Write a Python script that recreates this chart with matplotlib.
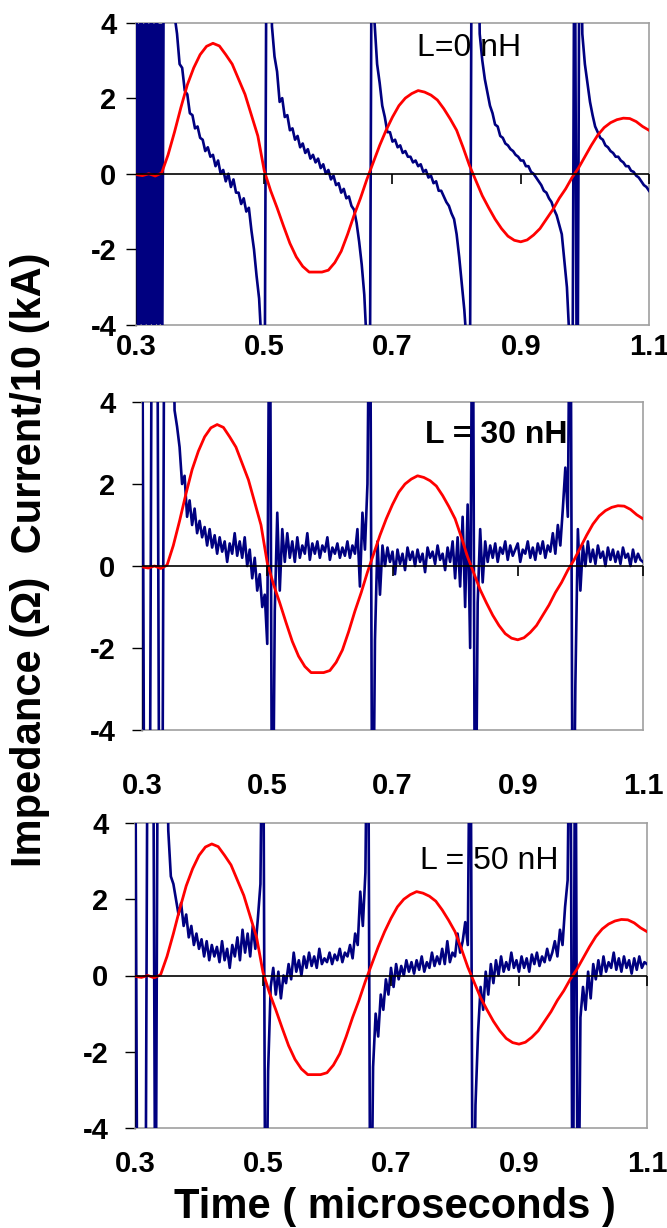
import numpy as np
import matplotlib
matplotlib.use('Agg')
import matplotlib.pyplot as plt

plt.rcParams['font.family'] = ['Liberation Sans', 'DejaVu Sans']

# scope sample grid (microseconds), 0.300 .. 1.100
t_start, t_step, n_samples = 0.300, 0.004, 201
time_us = np.round(t_start + t_step * np.arange(n_samples), 3)

# current / 10 (kA), read every 0.01 us
current_t = np.round(np.arange(81) * 0.01 + 0.30, 2)
current = [-0.02, -0.05, 0.00, -0.06, 0.02, 0.50, 1.10, 1.75, 2.35, 2.80,
           3.15, 3.37, 3.45, 3.38, 3.15, 2.90, 2.50, 2.10, 1.55, 1.00,
           0.08, -0.45, -0.90, -1.38, -1.84, -2.20, -2.45, -2.60, -2.60, -2.60,
           -2.55, -2.35, -2.05, -1.60, -1.10, -0.65, -0.15, 0.30, 0.75, 1.15,
           1.50, 1.80, 2.00, 2.12, 2.20, 2.16, 2.08, 1.95, 1.72, 1.45,
           1.15, 0.70, 0.22, -0.18, -0.58, -0.90, -1.20, -1.45, -1.65, -1.76,
           -1.80, -1.75, -1.62, -1.45, -1.20, -0.95, -0.65, -0.40, -0.10, 0.15,
           0.45, 0.75, 1.02, 1.22, 1.35, 1.43, 1.47, 1.46, 1.38, 1.25,
           1.15]

# impedance (ohm), one row = 0.04 us
z_0nH = [9, -9, 9, -9, 9, -9, 9, -9, 9, -9,
         -9, 9, 9, 9, 9, 4.2, 3.7, 2.9, 2.8, 2.2,
         2.1, 1.6, 1.55, 1.2, 1.25, 0.95, 0.9, 0.6, 0.7, 0.45,
         0.5, 0.2, 0.35, 0.0, 0.1, -0.2, 0.0, -0.35, -0.15, -0.5,
         -0.5, -0.8, -0.65, -1.0, -0.9, -1.5, -2.0, -2.7, -3.3, -4.6,
         -9, 9, 9, 3.9, 3.1, 2.7, 1.9, 2.0, 1.5, 1.55,
         1.15, 1.2, 0.9, 1.0, 0.7, 0.8, 0.55, 0.65, 0.4, 0.5,
         0.3, 0.4, 0.15, 0.25, 0.0, 0.1, -0.15, -0.05, -0.3, -0.25,
         -0.5, -0.4, -0.65, -0.6, -0.85, -0.95, -1.3, -1.8, -2.4, -3.2,
         -4.6, -9, 9, 4.0, 2.9, 2.4, 1.8, 1.5, 1.1, 1.1,
         0.85, 0.9, 0.7, 0.75, 0.55, 0.6, 0.45, 0.45, 0.3, 0.35,
         0.2, 0.25, 0.05, 0.1, -0.1, -0.05, -0.25, -0.2, -0.45, -0.45,
         -0.6, -0.75, -0.85, -1.05, -1.2, -1.6, -2.2, -2.9, -3.6, -4.6,
         -9, 9, 9, 9, 3.7, 3.0, 2.5, 2.15, 1.8, 1.6,
         1.3, 1.25, 1.0, 0.95, 0.8, 0.75, 0.65, 0.6, 0.5, 0.45,
         0.35, 0.35, 0.2, 0.2, 0.05, 0.0, -0.1, -0.2, -0.3, -0.45,
         -0.5, -0.65, -0.75, -0.95, -1.1, -1.35, -1.6, -2.3, -3.0, -4.4,
         -9, 9, -9, 9, 3.7, 2.9, 2.4, 1.9, 1.55, 1.25,
         1.1, 0.95, 0.9, 0.75, 0.7, 0.6, 0.55, 0.45, 0.45, 0.35,
         0.3, 0.2, 0.2, 0.08, 0.05, -0.05, -0.1, -0.2, -0.3, -0.35,
         -0.45]

z_30nH = [9, -9, -9, -9, 9, 9, 9, -9, -9, 9,
          9, 9, 9, 3.8, 3.4, 2.9, 2.0, 2.2, 1.2, 1.6,
          1.0, 1.4, 0.8, 1.1, 0.7, 0.95, 0.5, 0.9, 0.45, 0.75,
          0.3, 0.7, 0.35, 0.6, 0.1, 0.55, 0.3, 0.8, 0.25, 0.6,
          0.2, 0.7, 0.0, 0.4, -0.3, 0.2, -0.6, -0.2, -1.0, -0.7,
          -1.9, 9, -9, -1.1, 1.3, -0.6, 0.9, 0.1, 0.8, 0.2,
          0.6, 0.1, 0.7, 0.2, 0.5, 0.3, 0.8, 0.15, 0.55, 0.3,
          0.6, 0.2, 0.5, 0.35, 0.7, 0.15, 0.45, 0.3, 0.55, 0.2,
          0.45, 0.25, 0.6, 0.2, 0.5, 0.3, 0.9, -0.5, 1.3, 0.4,
          2.0, 9, -9, -1.8, 0.6, -0.7, 0.5, 0.0, 0.45, 0.1,
          0.35, -0.2, 0.4, 0.05, 0.3, -0.1, 0.45, 0.15, 0.35, 0.0,
          0.4, 0.1, 0.3, -0.15, 0.45, 0.2, 0.35, 0.05, 0.5, 0.15,
          0.3, -0.1, 0.45, 0.1, 0.6, -0.3, 0.7, -0.5, 1.2, -1.0,
          1.5, -2.0, 9, -9, -0.9, 0.9, -0.4, 0.6, 0.1, 0.5,
          0.2, 0.55, 0.1, 0.45, 0.3, 0.6, 0.15, 0.5, 0.25, 0.4,
          0.55, 0.1, 0.4, 0.3, 0.6, 0.2, 0.45, 0.15, 0.55, 0.3,
          0.6, 0.2, 0.5, 0.35, 0.8, 0.3, 1.0, 0.5, 1.4, 2.4,
          1.2, 9, -9, -2.9, 0.9, -0.6, 0.5, 0.0, 0.6, 0.1,
          0.4, 0.05, 0.5, 0.2, 0.35, 0.0, 0.45, 0.15, 0.4, 0.1,
          0.35, 0.05, 0.45, 0.2, 0.3, 0.0, 0.4, 0.1, 0.3, 0.15,
          0.1]

z_50nH = [9, -9, -9, -9, -9, 9, 9, 9, -9, 9,
          9, 9, 9, 3.8, 2.6, 2.4, 2.0, 1.6, 1.9, 1.3,
          1.6, 1.0, 1.3, 0.8, 1.1, 0.7, 0.95, 0.5, 0.9, 0.4,
          0.8, 0.5, 0.75, 0.35, 0.9, 0.4, 0.7, 0.2, 0.8, 0.5,
          1.0, 0.4, 1.2, 0.6, 1.1, 0.5, 1.3, 0.7, 1.5, 2.4,
          9, -9, -2.5, -0.3, 0.2, -0.5, 0.1, -0.6, 0.0, -0.2,
          0.3, -0.1, 0.6, 0.1, 0.4, 0.0, 0.5, 0.2, 0.6, 0.25,
          0.5, 0.2, 0.7, 0.3, 0.45, 0.35, 0.6, 0.3, 0.55, 0.4,
          0.7, 0.35, 0.6, 0.5, 0.8, 0.45, 1.1, 0.8, 2.2, 1.3,
          2.7, 9, -9, -2.4, -1.0, -1.6, -0.5, -0.9, -0.1, -0.5,
          0.2, -0.3, 0.3, -0.1, 0.25, 0.0, 0.4, 0.1, 0.35, 0.05,
          0.4, 0.15, 0.5, 0.1, 0.35, 0.2, 0.6, 0.25, 0.5, 0.3,
          0.7, 0.3, 0.9, 0.35, 0.6, 0.5, 1.1, 0.6, 0.9, 1.4,
          0.8, 9, -9, -3.4, -1.5, -0.3, -0.9, 0.1, -0.5, 0.3,
          -0.2, 0.4, 0.0, 0.5, 0.1, 0.35, 0.15, 0.6, 0.2, 0.4,
          0.1, 0.5, 0.2, 0.45, 0.1, 0.55, 0.3, 0.6, 0.25, 0.5,
          0.35, 0.7, 0.4, 0.6, 0.9, 0.5, 1.2, 0.8, 1.8, 2.5,
          9, -9, 9, -9, -1.1, -0.3, -0.9, 0.1, -0.6, 0.3,
          -0.1, 0.4, 0.0, 0.5, 0.1, 0.35, 0.2, 0.6, 0.15, 0.45,
          0.1, 0.5, 0.2, 0.4, 0.05, 0.45, 0.15, 0.5, 0.2, 0.35,
          0.3]

burst_0nH = (0.300, 0.342)  # solid ringing at the start of the L=0 trace

x_ticks = [0.3, 0.5, 0.7, 0.9, 1.1]
x_labels = ['0.3', '0.5', '0.7', '0.9', '1.1']
y_ticks = [-4, -2, 0, 2, 4]
y_labels = ['-4', '-2', '0', '2', '4']

navy = '#000080'
grey = '#a0a0a0'

panels = [
    # trace, label, label weight, label pos, axes rect, x pad, y pad, burst
    (z_0nH, 'L=0 nH', 'normal', (0.649, 0.916),
     [136 / 667, 1 - 325 / 1228, 513 / 667, 302.5 / 1228], 6, 7, burst_0nH),
    (z_30nH, 'L = 30 nH', 'bold', (0.707, 0.90),
     [142 / 667, 1 - 730 / 1228, 501 / 667, 328 / 1228], 30, 12, None),
    (z_50nH, 'L = 50 nH', 'normal', (0.691, 0.875),
     [135 / 667, 1 - 1128 / 1228, 512 / 667, 305 / 1228], 16, 12, None),
]

fig = plt.figure(figsize=(6.67, 12.28), dpi=100)

for z, label, weight, lpos, rect, xpad, ypad, burst in panels:
    assert len(z) == n_samples
    ax = fig.add_axes(rect)
    ax.set_xlim(0.3, 1.1)
    ax.set_ylim(-4, 4)
    if burst is not None:
        ax.axvspan(burst[0], burst[1], color=navy, lw=0, zorder=2)
    ax.plot(time_us, z, color=navy, lw=1.9, zorder=3)
    ax.plot(current_t, current, color='red', lw=2.0, zorder=4)
    ax.axhline(0, color='black', lw=1.2, zorder=5)
    # small tick marks hanging from the zero line
    ax.plot(x_ticks[1:], [0] * 4, ls='none', marker=3, ms=7, mew=1.2,
            color='black', zorder=5, clip_on=False)

    ax.set_xticks(x_ticks)
    ax.set_xticklabels(x_labels, fontweight='bold')
    ax.set_yticks(y_ticks)
    ax.set_yticklabels(y_labels, fontweight='bold')
    ax.tick_params(axis='x', length=0, pad=xpad, labelsize=21)
    ax.tick_params(axis='y', length=7, width=1, direction='out', pad=ypad,
                   labelsize=21)
    for side in ['top', 'right', 'bottom']:
        ax.spines[side].set_color(grey)
        ax.spines[side].set_linewidth(1.2)
    ax.spines['left'].set_color('black')
    ax.spines['left'].set_linewidth(1.0)

    ax.text(lpos[0], lpos[1], label, transform=ax.transAxes, ha='center',
            va='center', fontsize=23, fontweight=weight, zorder=6)

fig.text(395 / 667, 1 - 1207 / 1228, 'Time ( microseconds )', ha='center',
         va='center', fontsize=30, fontweight='bold')
fig.text(30 / 667, 1 - 560 / 1228, 'Impedance (\u03a9)  Current/10 (kA)',
         rotation=90, ha='center', va='center', fontsize=30, fontweight='bold')

fig.savefig('out.png', dpi=100)
